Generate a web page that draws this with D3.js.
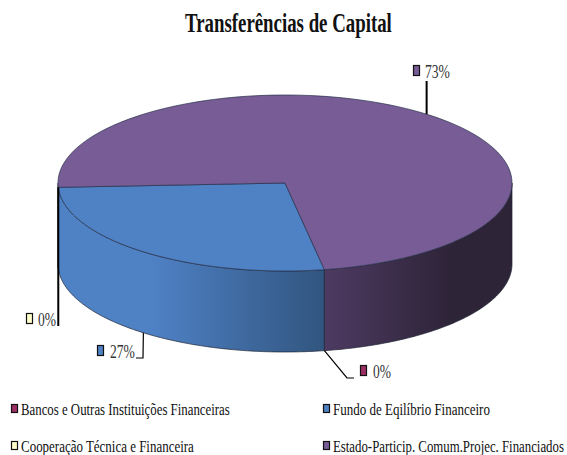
<!DOCTYPE html>
<html>
<head>
<meta charset="utf-8">
<script src="https://cdn.jsdelivr.net/npm/d3@7"></script>
<style>
  body { margin: 0; background: #fff; }
  text { font-family: "Liberation Serif", serif; fill: #111; }
</style>
</head>
<body>
<svg width="567" height="455"></svg>
<script>
const categories = [
  "Bancos e Outras Instituições Financeiras",
  "Fundo de Eqilíbrio Financeiro",
  "Cooperação Técnica e Financeira",
  "Estado-Particip. Comum.Projec. Financiados",
];
const values = [0, 27, 0, 73];
const colors = ["#9c2f63", "#4f81c5", "#ffffcc", "#775c96"];
const sideLeft = ["#9c2f63", "#4f81c5", "#ffffcc", "#4d3a62"];
const sideRight = ["#9c2f63", "#31557f", "#ffffcc", "#2e2438"];

const svg = d3.select("svg");

const cx = 285;
const cy = 183;
const rx = 227;
const ry = 88;
const depth = 81;

// pie angles: 0 at the top, going clockwise
const pie = d3
  .pie()
  .sort(null)
  .value((d) => d)
  .startAngle((170 * Math.PI) / 180)
  .endAngle((530 * Math.PI) / 180);
const slices = pie(values);

const px = (a) => cx + rx * Math.sin(a);
const py = (a) => cy - ry * Math.cos(a);

const ring = (a0, a1) =>
  d3.range(0, 121).map((i) => a0 + ((a1 - a0) * i) / 120);

const line = d3.line();

const defs = svg.append("defs");

const sideSpan = (d) => {
  // only the part of a slice facing the viewer (90deg to 270deg) has a wall
  const turn = 2 * Math.PI;
  const lo = Math.PI / 2;
  const hi = (3 * Math.PI) / 2;
  const spans = [];
  [0, turn].forEach((k) => {
    const a0 = Math.max(d.startAngle, lo + k);
    const a1 = Math.min(d.endAngle, hi + k);
    if (a1 > a0) spans.push([a0, a1]);
  });
  return spans;
};

slices.forEach((d, i) => {
  const g = defs
    .append("linearGradient")
    .attr("id", `side${i}`)
    .attr("gradientUnits", "userSpaceOnUse")
    .attr("x1", i === 1 ? 58 : 325)
    .attr("x2", i === 1 ? 325 : 450)
    .attr("y1", 0)
    .attr("y2", 0);
  g.append("stop").attr("offset", i === 1 ? 0.35 : 0).attr("stop-color", sideLeft[i]);
  g.append("stop").attr("offset", 1).attr("stop-color", sideRight[i]);
});

// walls
slices.forEach((d, i) => {
  sideSpan(d).forEach(([a0, a1]) => {
    const top = ring(a0, a1).map((a) => [px(a), py(a)]);
    const bottom = ring(a1, a0).map((a) => [px(a), py(a) + depth]);
    svg
      .append("path")
      .attr("d", line(top.concat(bottom)) + "Z")
      .attr("fill", `url(#side${i})`)
      .attr("stroke", "#1d2433")
      .attr("stroke-width", 0.7);
  });
});

// top faces
slices.forEach((d, i) => {
  if (d.endAngle === d.startAngle) return;
  const pts = ring(d.startAngle, d.endAngle).map((a) => [px(a), py(a)]);
  svg
    .append("path")
    .attr("d", line([[cx, cy]].concat(pts)) + "Z")
    .attr("fill", colors[i])
    .attr("stroke", "#26304a")
    .attr("stroke-width", 0.7);
});

// the text in the picture is squeezed sideways, so measure it and scale it to width
const fitText = (x, y, w, size, str, weight = "normal") => {
  const t = svg
    .append("text")
    .attr("font-size", size)
    .attr("font-weight", weight)
    .text(str);
  const k = w / t.node().getComputedTextLength();
  t.attr("transform", `translate(${x},${y}) scale(${k},1)`);
  return t;
};

fitText(185, 32, 207, 27, "Transferências de Capital", "bold");

// data labels: swatch x, text x, text width, baseline
const labelPos = [
  { sx: 360, tx: 373, w: 18, y: 378 },
  { sx: 97, tx: 110, w: 25, y: 358 },
  { sx: 26, tx: 38, w: 18, y: 326 },
  { sx: 413, tx: 425, w: 25, y: 78 },
];

const swatch = (x, y, w, h, i) =>
  svg
    .append("rect")
    .attr("x", x + 0.5)
    .attr("y", y + 0.5)
    .attr("width", w)
    .attr("height", h)
    .attr("fill", colors[i])
    .attr("stroke", "#111")
    .attr("stroke-width", 1.2);

slices.forEach((d, i) => {
  const p = labelPos[i];
  swatch(p.sx, p.y - 13, 6, 10, i);
  fitText(p.tx, p.y, p.w, 19, `${values[i]}%`).style("fill", "#333");
});

// leader lines start on the slice edge
const mid = slices.map((d) => (d.startAngle + d.endAngle) / 2);
const leaders = [
  { w: 1.2, pts: [[px(mid[0]), py(mid[0]) + depth], [347, 378], [354, 378]] },
  { w: 1.2, pts: [[px(mid[1]), py(mid[1]) + depth], [143, 358], [136, 358]] },
  { w: 2, pts: [[px(mid[2]), py(mid[2])], [px(mid[2]), 326]] },
  { w: 2, pts: [[px(mid[3]), py(mid[3])], [px(mid[3]), 81]] },
];
leaders.forEach((l) => {
  svg
    .append("path")
    .attr("d", line(l.pts))
    .attr("fill", "none")
    .attr("stroke", "#000")
    .attr("stroke-width", l.w);
});

// legend
const legendPos = [
  { sx: 11, tx: 21, w: 209, y: 415 },
  { sx: 323, tx: 333, w: 157, y: 415 },
  { sx: 11, tx: 21, w: 173, y: 452 },
  { sx: 323, tx: 333, w: 231, y: 452 },
];
categories.forEach((c, i) => {
  const p = legendPos[i];
  swatch(p.sx, p.y - 11, 6, 8, i);
  fitText(p.tx, p.y, p.w, 17, c);
});
</script>
</body>
</html>
